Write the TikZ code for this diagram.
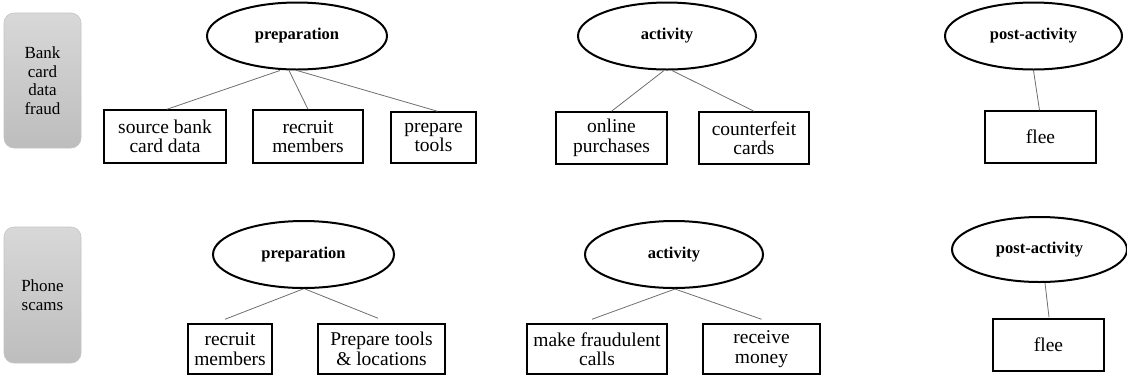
\documentclass[tikz,border=0pt]{standalone}
\usepackage{fontspec}
\setmainfont{Liberation Serif}
\usetikzlibrary{shapes.geometric,calc}
\definecolor{sidetop}{HTML}{D8D8D8}
\definecolor{sidebot}{HTML}{BDBDBD}
\definecolor{sideedge}{HTML}{C4C4C4}
\definecolor{linkgray}{HTML}{6E6E6E}
\tikzset{
  sidebox/.style={rectangle, rounded corners=10pt, draw=sideedge, line width=0.6pt,
    top color=sidetop, bottom color=sidebot, align=center, inner sep=2pt,
    font=\fontsize{17}{18.5}\selectfont},
  phase/.style={ellipse, draw=black, line width=2pt, inner sep=0pt,
    font=\fontsize{16.5}{18}\selectfont\bfseries},
  taskbox/.style={rectangle, draw=black, line width=1.5pt, align=center, inner sep=2pt,
    font=\fontsize{19.5}{19.5}\selectfont},
  link/.style={draw=linkgray, line width=0.8pt}
}
\begin{document}
\begin{tikzpicture}[x=1pt,y=-1pt]
\useasboundingbox (0,0) rectangle (1127,376);

% row labels
\node[sidebox, minimum width=77pt, minimum height=135pt] (cat1) at (42.5,80.5) {Bank\\card\\data\\fraud};
\node[sidebox, minimum width=77pt, minimum height=136pt] (cat2) at (42.5,295) {Phone\\scams};

% bank card data fraud
\node[phase, minimum width=180pt, minimum height=67pt] (e1) at (297,36) {preparation};
\node[taskbox, minimum width=122pt, minimum height=53pt] (b11) at (165,136.5) {source bank\\card data};
\node[taskbox, minimum width=110pt, minimum height=53pt] (b12) at (308,136.5) {recruit\\members};
\node[taskbox, minimum width=85pt, minimum height=51pt] (b13) at (433.5,137.5) {prepare\\tools};

\node[phase, minimum width=178pt, minimum height=67pt] (e2) at (667,36) {activity};
\node[taskbox, minimum width=111pt, minimum height=52pt] (b21) at (611.5,138) {online\\purchases};
\node[taskbox, minimum width=110pt, minimum height=52pt] (b22) at (754,138) {counterfeit\\cards};

\node[phase, minimum width=177pt, minimum height=67pt] (e3) at (1033.5,36) {post-activity};
\node[taskbox, minimum width=111pt, minimum height=52pt] (b31) at (1040.5,137) {flee};

% phone scams
\node[phase, minimum width=181pt, minimum height=67pt] (e4) at (303.5,254.5) {preparation};
\node[taskbox, minimum width=84pt, minimum height=50pt] (b41) at (230,349) {recruit\\members};
\node[taskbox, minimum width=127pt, minimum height=50pt] (b42) at (381.5,349) {Prepare tools\\\& locations};

\node[phase, minimum width=178pt, minimum height=67pt] (e5) at (674,254.5) {activity};
\node[taskbox, minimum width=140pt, minimum height=50pt] (b51) at (597,349) {make fraudulent\\calls};
\node[taskbox, minimum width=117pt, minimum height=50pt] (b52) at (761.5,349) {receive\\money};

\node[phase, minimum width=175pt, minimum height=65pt] (e6) at (1039.5,249.5) {post-activity};
\node[taskbox, minimum width=111pt, minimum height=52pt] (b61) at (1048.5,345) {flee};

% connectors
\draw[link] ($(e1.south)+(-17,0)$) -- ($(b11.north)+(2,0)$);
\draw[link] ($(e1.south)+(-8,0)$) -- (b12.north);
\draw[link] (e1.south) -- ($(b13.north)+(4,0)$);
\draw[link] ($(e2.south)+(-3,0)$) -- (b21.north);
\draw[link] ($(e2.south)+(5,0)$) -- (b22.north);
\draw[link] (e3.south) -- ($(b31.north)+(-1,0)$);

\draw[link] ($(e4.south)+(-0.5,0)$) -- ($(b41.north)+(-5,-4)$);
\draw[link] ($(e4.south)+(1.5,0)$) -- ($(b42.north)+(-3.5,-5)$);
\draw[link] ($(e5.south)+(1,0)$) -- ($(b52.north)+(0,-4)$);
\draw[link] ($(e5.south)+(1,0)$) -- ($(b51.north)+(-5,-4)$);
\draw[link] ($(e6.south)+(5.5,0)$) -- ($(b61.north)+(0.5,-1)$);
\end{tikzpicture}
\end{document}
